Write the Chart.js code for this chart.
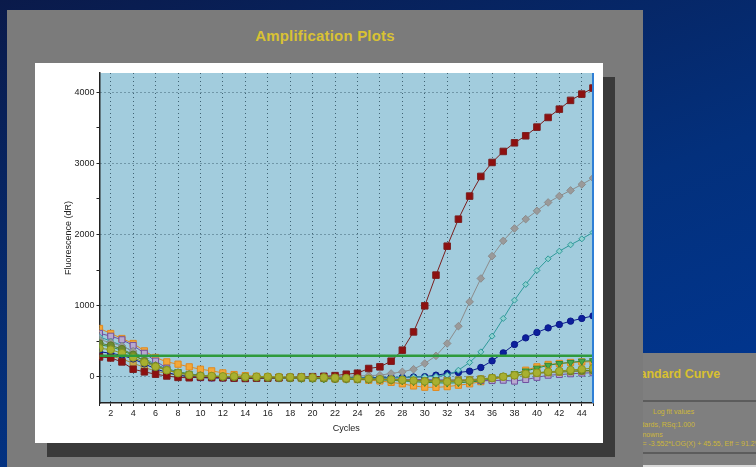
<!DOCTYPE html>
<html>
<head>
<meta charset="utf-8">
<script src="https://cdn.jsdelivr.net/npm/chart.js@4.4.1/dist/chart.umd.min.js"></script>
<style>
  html, body { margin: 0; padding: 0; }
  body {
    width: 756px; height: 467px; overflow: hidden; position: relative;
    background: linear-gradient(160deg, #0a1a4a 0%, #03307c 55%, #003896 100%);
    font-family: "Liberation Sans", Arial, sans-serif;
  }
  .side-panel { position: absolute; left: 560px; top: 353px; width: 210px; height: 130px; background: #7f7f7f; }
  .side-panel .rule { position: absolute; left: 0; right: 0; height: 2px; background: #5c5c5c; }
  .side-panel .head { position: absolute; left: 67px; top: 14px; color: #d8c030; font-weight: bold; font-size: 12.5px; white-space: nowrap; }
  .side-panel .small { position: absolute; color: #cdb73a; font-size: 7px; white-space: nowrap; }
  .side-panel .base { position: absolute; left: 0; right: 0; top: 112px; height: 20px; background: #d8d8d8; }
  .panel { position: absolute; left: 7px; top: 10px; width: 636px; height: 470px; background: #7b7b7b; }
  .panel h1 {
    position: absolute; left: 0; right: 0; top: 17px; margin: 0; text-align: center;
    color: #d9c233; font-size: 15px; font-weight: bold; letter-spacing: 0.2px;
  }
  .shadow { position: absolute; left: 40px; top: 67px; width: 568px; height: 380px; background: #3a3a3a; }
  .card { position: absolute; left: 28px; top: 53px; width: 568px; height: 380px; background: #fff; }
  canvas { display: block; }
</style>
</head>
<body>
<div class="side-panel">
  <div class="head">Standard Curve</div>
  <div class="rule" style="top:47px"></div>
  <div class="small" style="left:93px;top:55px">Log fit values</div>
  <div class="small" style="left:66px;top:68px">Standards, RSq:1.000</div>
  <div class="small" style="left:70px;top:78px">Unknowns</div>
  <div class="small" style="left:76px;top:87px">Y = -3.552*LOG(X) + 45.55, Eff = 91.2%</div>
  <div class="rule" style="top:99px"></div>
  <div class="base"></div>
</div>
<div class="panel">
  <h1>Amplification Plots</h1>
  <div class="shadow"></div>
  <div class="card"><canvas id="amp" width="568" height="380"></canvas></div>
</div>
<script>
'use strict';

// ── Data ─────────────────────────────────────────────
const cycles = [1, 2, 3, 4, 5, 6, 7, 8, 9, 10, 11, 12, 13, 14, 15, 16, 17, 18, 19, 20, 21, 22, 23,
                24, 25, 26, 27, 28, 29, 30, 31, 32, 33, 34, 35, 36, 37, 38, 39, 40, 41, 42, 43, 44, 45];

const redSquares = [278, 264, 208, 105, 68, 35, 10, -10, -15, -5, -10, -15, -20, -25, -20, -20, -15, -10, -5, 0,
                    5, 15, 35, 49, 115, 138, 218, 373, 630, 996, 1428, 1835, 2215, 2539, 2816, 3012, 3167, 3288,
                    3387, 3509, 3645, 3762, 3885, 3973, 4058];
const grayDiamonds = [520, 480, 430, 360, 250, 160, 100, 60, 30, 15, 5, 0, -5, -10, -10, -10, -10, -5, -5, 0,
                      0, 0, 5, 10, 15, 21, 45, 68, 105, 186, 293, 467, 710, 1052, 1381, 1695, 1910, 2084,
                      2215, 2332, 2450, 2539, 2619, 2703, 2792];
const tealDiamonds = [560, 500, 440, 350, 260, 170, 110, 60, 30, 10, 0, -5, -10, -10, -15, -15, -10, -10, -5, -5,
                      -10, -10, -15, -15, -20, -20, -15, -10, -5, 0, 5, 21, 91, 200, 349, 570, 819, 1076,
                      1297, 1494, 1657, 1765, 1854, 1938, 2028];
const navyCircles = [350, 330, 300, 250, 180, 110, 60, 20, 0, -10, -15, -15, -20, -20, -20, -15, -15, -10, -10, -5,
                     -5, -10, -10, -15, -15, -10, -10, -10, -5, 0, 21, 45, 59, 77, 129, 222, 335, 453,
                     546, 622, 686, 734, 781, 819, 855];
const purpleSquares = [610, 570, 520, 440, 330, 220, 120, 40, -5, -15, -20, -20, -25, -25, -20, -20, -15, -15, -10, -10,
                       -10, -15, -20, -20, -25, -30, -30, -35, -40, -40, -45, -45, -50, -50, -55, -55, -50, -63,
                       -40, -10, 20, 30, 40, 50, 55];
const orangeSquares = [678, 607, 537, 467, 363, 270, 208, 176, 138, 105, 82, 53, 30, 15, 5, 0, -5, -10, -15, -20,
                       -20, -30, -30, -40, -50, -60, -80, -100, -130, -148, -150, -140, -120, -100, -70, -40, -10, 30,
                       91, 138, 172, 186, 200, 208, 210];
const greenTriangles = [450, 420, 370, 300, 230, 160, 110, 70, 40, 20, 10, 0, -5, -10, -15, -15, -20, -20, -25, -25,
                        -30, -30, -35, -35, -40, -45, -50, -60, -70, -80, -85, -90, -85, -75, -60, -30, 0, 40,
                        80, 120, 160, 185, 200, 218, 225];
const oliveCircles = [400, 380, 330, 270, 200, 140, 90, 50, 25, 10, 10, 5, 5, 0, 0, 0, -5, -5, -5, -10,
                      -10, -15, -20, -25, -30, -35, -40, -45, -55, -65, -70, -70, -65, -55, -40, -20, 0, 20,
                      40, 55, 70, 80, 95, 105, 120];
const mossCircles = [470, 440, 390, 310, 220, 150, 95, 55, 30, 15, 5, 0, -5, -10, -10, -15, -15, -20, -20, -25,
                     -25, -30, -30, -35, -35, -40, -45, -50, -55, -60, -60, -65, -60, -55, -40, -20, 0, 20,
                     40, 55, 65, 75, 80, 85, 90];
const khakiSquares = [300, 290, 250, 190, 130, 80, 45, 20, 5, 0, -5, -10, -10, -15, -15, -20, -20, -20, -25, -25,
                      -25, -30, -30, -35, -35, -40, -40, -45, -50, -55, -55, -50, -45, -40, -30, -15, 0, 15,
                      30, 45, 55, 60, 70, 75, 80];
const threshold = 295;

const yTickMarks = [0, 500, 1000, 1500, 2000, 2500, 3000, 3500, 4000];
const yTickLabels = [0, 1000, 2000, 3000, 4000];

// ── Helpers ──────────────────────────────────────────
function series(values, color, fill, style, radius, extra = {}) {
    return Object.assign({
        data: values.map((v, i) => ({ x: cycles[i], y: v })),
        borderColor: color,
        borderWidth: 1,
        pointBackgroundColor: fill,
        pointBorderColor: color,
        pointBorderWidth: 1,
        pointStyle: style,
        pointRadius: radius,
        tension: 0,
        order: 3,
    }, extra);
}

const plotFrame = {
    id: 'plotFrame',
    beforeDraw(chart) {
        const { ctx, chartArea: a } = chart;
        ctx.save();
        ctx.fillStyle = '#a2ccdd';
        ctx.fillRect(a.left, a.top, a.right - a.left, a.bottom - a.top);
        ctx.restore();
    },
    afterDraw(chart) {
        const { ctx, chartArea: a } = chart;
        ctx.save();
        ctx.strokeStyle = '#2f7fd6';
        ctx.lineWidth = 2;
        ctx.beginPath();
        ctx.moveTo(a.right, a.top);
        ctx.lineTo(a.right, a.bottom);
        ctx.stroke();
        ctx.restore();
    },
};

const tickFont = { family: '"Liberation Sans", Arial, sans-serif', size: 9 };
const gridDots = '#3f6272';

new Chart(document.getElementById('amp'), {
    type: 'line',
    data: {
        datasets: [
            {
                data: [{ x: cycles[0], y: threshold }, { x: cycles[cycles.length - 1], y: threshold }],
                borderColor: '#2e9a3c', borderWidth: 2.5, pointRadius: 0, order: 0,
            },
            series(oliveCircles, '#8a9420', '#a8b030', 'circle', 3.8, { order: 1 }),
            series(mossCircles, '#5e7a2a', '#6f8a30', 'circle', 3.6, { order: 1 }),
            series(redSquares, '#7a1f1f', '#8e1010', 'rect', 4.6, { order: 2 }),
            series(grayDiamonds, '#8c8c8c', '#9a9a9a', 'rectRot', 3.8),
            series(tealDiamonds, '#2f9a9a', '#8fd0d0', 'rectRot', 3),
            series(navyCircles, '#0b1a8a', '#0d1f9c', 'circle', 3.2),
            series(khakiSquares, '#a08a3a', '#c8a848', 'rect', 4.4),
            series(purpleSquares, '#7050a0', '#b8a8d0', 'rect', 4.2),
            series(greenTriangles, '#2f8a3a', '#48a848', 'triangle', 4, { pointRotation: 180 }),
            series(orangeSquares, '#e08a20', '#f4a838', 'rect', 4.4),
        ],
    },
    plugins: [plotFrame],
    options: {
        responsive: false,
        animation: false,
        layout: { padding: { left: 0, top: 10, right: 10, bottom: 0 } },
        plugins: { legend: { display: false }, tooltip: { enabled: false } },
        scales: {
            x: {
                type: 'linear', min: 1, max: 45,
                afterFit: axis => { axis.height = 40; },
                ticks: {
                    stepSize: 1, autoSkip: false, maxRotation: 0, padding: 2,
                    color: '#222', font: tickFont,
                    callback: v => (v % 2 === 0 ? v : ''),
                },
                grid: {
                    color: c => (c.tick && c.tick.value % 2 === 0 ? gridDots : 'transparent'),
                    tickColor: '#222', tickLength: 3, lineWidth: 1,
                },
                border: { color: '#222', width: 1.5, dash: [1, 3] },
                title: { display: true, text: 'Cycles', color: '#222', font: tickFont, padding: { top: 0, bottom: 9 } },
            },
            y: {
                min: -370, max: 4270,
                afterFit: axis => { axis.width = 64.5; },
                afterBuildTicks: axis => { axis.ticks = yTickMarks.map(v => ({ value: v })); },
                ticks: {
                    autoSkip: false, padding: 2,
                    color: '#222', font: tickFont,
                    callback: v => (yTickLabels.includes(v) ? v : ''),
                },
                grid: {
                    color: c => (c.tick && yTickLabels.includes(c.tick.value) ? gridDots : 'transparent'),
                    tickColor: '#222', tickLength: 3, lineWidth: 1,
                },
                border: { color: '#222', width: 1.5, dash: [1, 3] },
                title: { display: true, text: 'Fluorescence (dR)', color: '#222', font: tickFont, padding: { top: 28, bottom: 0 } },
            },
        },
    },
});
</script>
</body>
</html>
